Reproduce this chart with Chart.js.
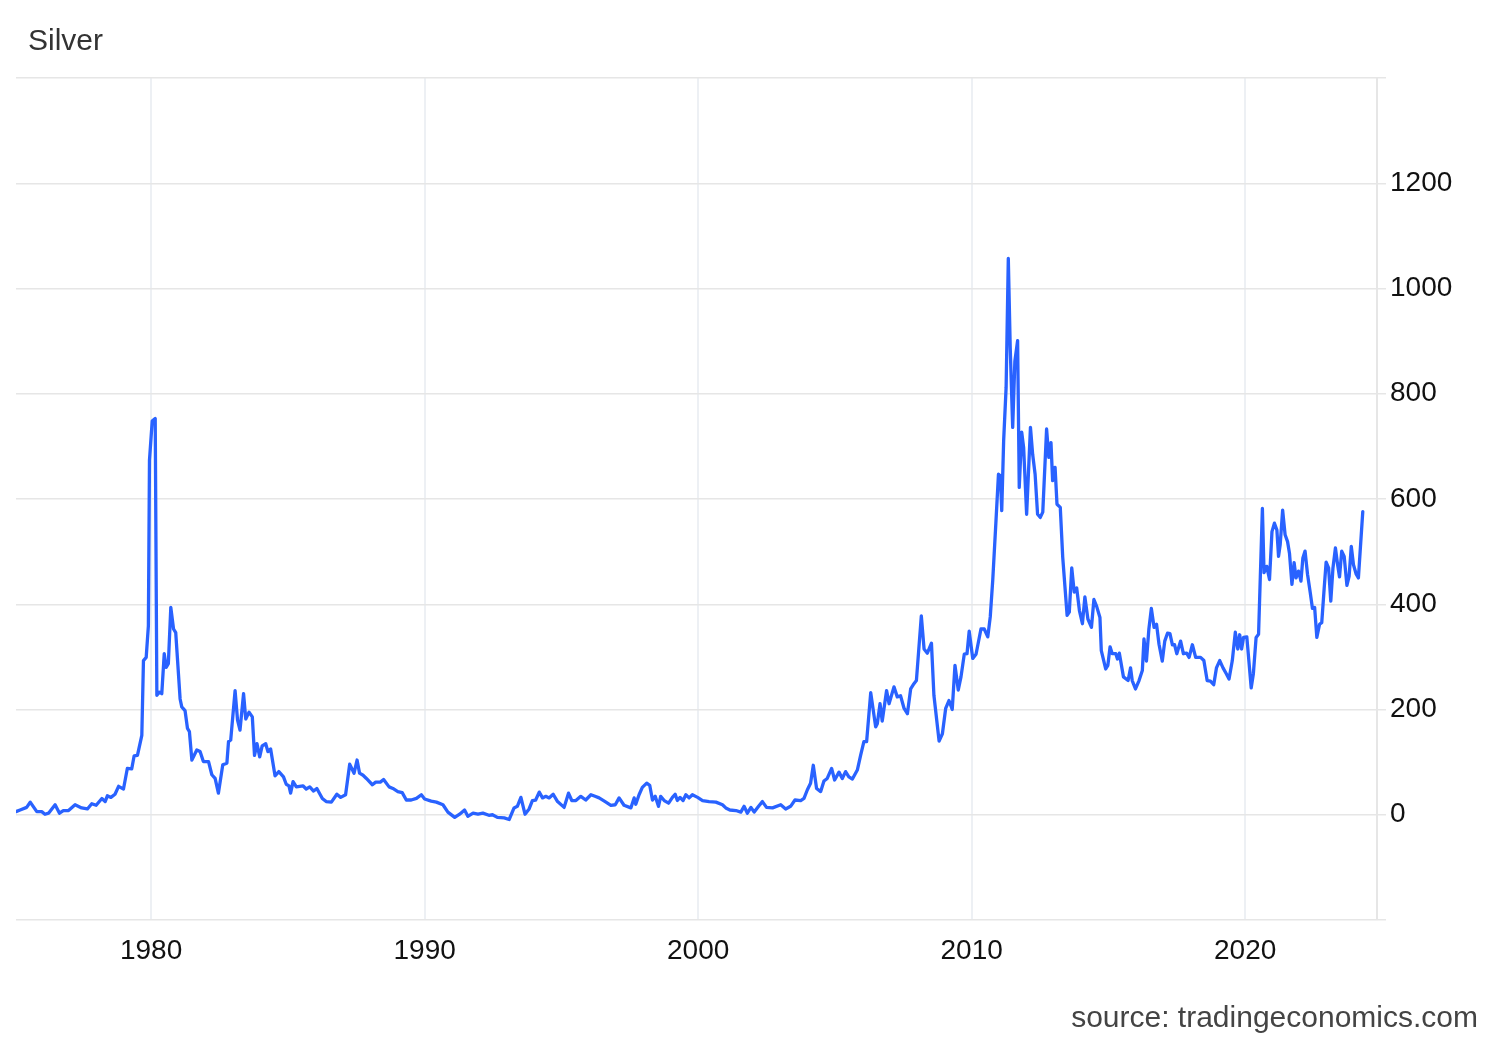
<!DOCTYPE html>
<html>
<head>
<meta charset="utf-8">
<title>Silver</title>
<script src="https://cdn.jsdelivr.net/npm/chart.js@4.4.1/dist/chart.umd.min.js"></script>
<style>
    html, body {
        margin: 0;
        padding: 0;
        background: #ffffff;
    }
    #wrap {
        position: relative;
        width: 1500px;
        height: 1040px;
        font-family: "Liberation Sans", Arial, sans-serif;
    }
    #chart-box {
        position: absolute;
        left: 0;
        top: 0;
        width: 1500px;
        height: 1040px;
    }
    .chart-title {
        position: absolute;
        left: 28px;
        top: 25px;
        font-size: 30px;
        line-height: 30px;
        color: #333333;
    }
    .chart-source {
        position: absolute;
        right: 22px;
        top: 1002px;
        font-size: 30px;
        line-height: 30px;
        color: #444444;
    }
</style>
</head>
<body>
<div id="wrap">
    <div id="chart-box"><canvas id="chart-silver"></canvas></div>
    <div class="chart-title">Silver</div>
    <div class="chart-source">source: tradingeconomics.com</div>
</div>

<script>
// Silver, change since 1975 (%)
const dates = [
    1975.06, 1975.21, 1975.45, 1975.58, 1975.82, 1976.00, 1976.12, 1976.25, 1976.49, 1976.65,
    1976.79, 1976.98, 1977.22, 1977.46, 1977.67, 1977.83, 1977.99, 1978.20, 1978.32, 1978.40,
    1978.53, 1978.68, 1978.81, 1978.99, 1979.13, 1979.29, 1979.38, 1979.50, 1979.66, 1979.72,
    1979.82, 1979.90, 1979.94, 1980.04, 1980.15, 1980.21, 1980.30, 1980.39, 1980.48, 1980.55,
    1980.63, 1980.72, 1980.82, 1980.90, 1981.06, 1981.12, 1981.24, 1981.33, 1981.40, 1981.49,
    1981.67, 1981.79, 1981.91, 1982.10, 1982.22, 1982.34, 1982.46, 1982.62, 1982.77, 1982.83,
    1982.91, 1983.07, 1983.16, 1983.25, 1983.38, 1983.46, 1983.58, 1983.70, 1983.78, 1983.87,
    1983.97, 1984.06, 1984.19, 1984.27, 1984.37, 1984.53, 1984.67, 1984.84, 1984.94, 1985.04,
    1985.10, 1985.19, 1985.31, 1985.55, 1985.67, 1985.80, 1985.94, 1986.06, 1986.26, 1986.40,
    1986.59, 1986.79, 1986.93, 1987.11, 1987.26, 1987.42, 1987.53, 1987.62, 1987.75, 1987.87,
    1988.09, 1988.21, 1988.38, 1988.50, 1988.70, 1988.84, 1989.02, 1989.18, 1989.33, 1989.51,
    1989.70, 1989.88, 1990.00, 1990.24, 1990.43, 1990.67, 1990.85, 1991.10, 1991.28, 1991.46,
    1991.58, 1991.77, 1991.95, 1992.13, 1992.35, 1992.48, 1992.66, 1992.91, 1993.09, 1993.27,
    1993.39, 1993.52, 1993.67, 1993.82, 1993.94, 1994.06, 1994.19, 1994.31, 1994.43, 1994.55,
    1994.70, 1994.86, 1995.10, 1995.26, 1995.38, 1995.53, 1995.71, 1995.89, 1996.08, 1996.23,
    1996.38, 1996.60, 1996.81, 1996.97, 1997.11, 1997.29, 1997.54, 1997.66, 1997.72, 1997.84,
    1997.96, 1998.12, 1998.23, 1998.33, 1998.43, 1998.55, 1998.63, 1998.76, 1998.92, 1999.06,
    1999.16, 1999.24, 1999.34, 1999.45, 1999.55, 1999.67, 1999.79, 1999.98, 2000.16, 2000.40,
    2000.65, 2000.89, 2001.01, 2001.16, 2001.38, 2001.56, 2001.68, 2001.80, 2001.93, 2002.05,
    2002.21, 2002.35, 2002.50, 2002.72, 2003.02, 2003.20, 2003.38, 2003.54, 2003.75, 2003.87,
    2003.99, 2004.11, 2004.21, 2004.33, 2004.48, 2004.60, 2004.72, 2004.88, 2004.99, 2005.15,
    2005.27, 2005.39, 2005.51, 2005.64, 2005.82, 2005.94, 2006.06, 2006.16, 2006.31, 2006.49,
    2006.55, 2006.65, 2006.73, 2006.89, 2006.98, 2007.16, 2007.28, 2007.40, 2007.53, 2007.65,
    2007.77, 2007.89, 2007.98, 2008.16, 2008.26, 2008.38, 2008.53, 2008.62, 2008.81, 2008.93,
    2009.05, 2009.17, 2009.29, 2009.39, 2009.51, 2009.61, 2009.73, 2009.83, 2009.91, 2010.04,
    2010.16, 2010.34, 2010.46, 2010.59, 2010.68, 2010.77, 2010.89, 2010.98, 2011.05, 2011.10,
    2011.17, 2011.26, 2011.34, 2011.41, 2011.50, 2011.58, 2011.68, 2011.74, 2011.83, 2011.90,
    2012.01, 2012.15, 2012.23, 2012.32, 2012.41, 2012.51, 2012.60, 2012.74, 2012.82, 2012.90,
    2012.96, 2013.05, 2013.12, 2013.24, 2013.33, 2013.49, 2013.57, 2013.66, 2013.75, 2013.84,
    2013.94, 2014.05, 2014.14, 2014.25, 2014.38, 2014.47, 2014.57, 2014.69, 2014.74, 2014.90,
    2014.98, 2015.06, 2015.14, 2015.27, 2015.33, 2015.40, 2015.55, 2015.72, 2015.81, 2015.87,
    2015.99, 2016.12, 2016.24, 2016.30, 2016.39, 2016.48, 2016.57, 2016.67, 2016.76, 2016.85,
    2016.97, 2017.06, 2017.16, 2017.25, 2017.34, 2017.42, 2017.50, 2017.64, 2017.74, 2017.86,
    2017.95, 2018.07, 2018.19, 2018.37, 2018.49, 2018.61, 2018.73, 2018.85, 2018.95, 2019.07,
    2019.19, 2019.31, 2019.41, 2019.53, 2019.64, 2019.73, 2019.80, 2019.87, 2019.94, 2020.06,
    2020.12, 2020.22, 2020.30, 2020.40, 2020.49, 2020.63, 2020.69, 2020.79, 2020.89, 2020.98,
    2021.07, 2021.16, 2021.22, 2021.28, 2021.37, 2021.46, 2021.55, 2021.62, 2021.71, 2021.79,
    2021.86, 2021.95, 2022.04, 2022.11, 2022.19, 2022.28, 2022.38, 2022.46, 2022.54, 2022.62,
    2022.72, 2022.80, 2022.89, 2022.96, 2023.05, 2023.13, 2023.21, 2023.30, 2023.38, 2023.45,
    2023.53, 2023.62, 2023.72, 2023.80, 2023.88, 2023.96, 2024.06, 2024.14, 2024.30
];

const silverChange = [
    6, 9, 14, 24, 6, 6, 1, 3, 19, 3,
    8, 8, 19, 13, 11, 21, 18, 31, 25, 36,
    33, 39, 54, 49, 88, 87, 112, 113, 151, 293,
    299, 359, 674, 748, 753, 227, 233, 230, 306, 280,
    287, 394, 353, 346, 220, 205, 198, 164, 158, 104,
    123, 120, 101, 101, 76, 69, 41, 95, 98, 139,
    142, 236, 180, 161, 230, 182, 195, 186, 113, 135,
    110, 131, 135, 120, 125, 74, 82, 72, 58, 55,
    41, 63, 53, 55, 49, 53, 45, 50, 31, 25,
    24, 39, 33, 38, 96, 79, 104, 79, 75, 69,
    57, 62, 62, 67, 53, 50, 44, 42, 28, 28,
    31, 38, 30, 26, 24, 19, 5, -5, 1, 9,
    -3, 3, 1, 3, -1, 0, -5, -6, -9, 13,
    16, 33, 1, 11, 27, 28, 43, 32, 35, 32,
    39, 25, 14, 41, 27, 27, 35, 28, 38, 35,
    32, 25, 18, 19, 32, 18, 13, 32, 20, 38,
    52, 60, 56, 28, 35, 16, 35, 27, 22, 33,
    39, 27, 33, 27, 38, 32, 38, 33, 27, 25,
    24, 19, 13, 9, 8, 5, 16, 3, 14, 5,
    16, 25, 14, 13, 19, 11, 16, 28, 27, 31,
    47, 60, 94, 50, 44, 64, 69, 88, 66, 81,
    69, 82, 72, 68, 85, 113, 139, 139, 232, 167,
    173, 211, 178, 236, 211, 243, 224, 226, 202, 192,
    239, 249, 255, 378, 315, 307, 326, 227, 140, 154,
    202, 217, 200, 284, 237, 262, 305, 306, 349, 297,
    305, 353, 353, 338, 376, 445, 559, 647, 644, 578,
    711, 812, 1057, 888, 736, 862, 901, 622, 727, 698,
    571, 736, 685, 647, 571, 565, 575, 733, 679, 707,
    635, 660, 590, 584, 489, 379, 385, 469, 423, 431,
    388, 363, 414, 372, 356, 409, 396, 375, 312, 277,
    284, 319, 306, 306, 296, 307, 262, 255, 279, 255,
    239, 255, 274, 334, 292, 353, 392, 356, 362, 324,
    292, 330, 345, 344, 323, 323, 306, 330, 306, 307,
    299, 323, 299, 299, 293, 255, 254, 247, 279, 293,
    279, 268, 258, 293, 347, 315, 342, 315, 337, 338,
    302, 241, 268, 337, 343, 582, 460, 472, 447, 538,
    554, 541, 491, 513, 579, 532, 519, 497, 438, 479,
    450, 463, 444, 488, 501, 457, 422, 392, 394, 337,
    362, 365, 431, 480, 469, 406, 469, 507, 475, 452,
    501, 491, 436, 453, 510, 475, 457, 450, 576
];

// axis ticks
const yearTicks = [1980, 1990, 2000, 2010, 2020];
const gridValues = [-200, 0, 200, 400, 600, 800, 1000, 1200, 1400];
const labelValues = [0, 200, 400, 600, 800, 1000, 1200];

const xMin = 1975.06;
const xMax = 2024.82;

const tickFont = { family: '"Liberation Sans", Arial, sans-serif', size: 28 };

const points = dates.map((d, i) => ({ x: d, y: silverChange[i] }));

const ctx = document.getElementById('chart-silver');

new Chart(ctx, {
    type: 'line',
    data: {
        datasets: [{
            label: 'Silver',
            data: points,
            borderColor: '#2962ff',
            borderWidth: 3.3,
            borderJoinStyle: 'round',
            borderCapStyle: 'round',
            pointRadius: 0,
            tension: 0,
            fill: false
        }]
    },
    options: {
        responsive: true,
        maintainAspectRatio: false,
        animation: false,
        layout: {
            padding: { left: 16, top: 78, right: 0, bottom: 0 }
        },
        plugins: {
            legend: { display: false },
            tooltip: { enabled: false }
        },
        scales: {
            x: {
                type: 'linear',
                position: 'bottom',
                min: xMin,
                max: xMax,
                afterBuildTicks: (scale) => {
                    scale.ticks = yearTicks.map(v => ({ value: v }));
                },
                afterFit: (scale) => {
                    scale.height = 120;
                },
                grid: {
                    color: '#edf0f4',
                    lineWidth: 2,
                    drawTicks: false
                },
                border: { display: false },
                ticks: {
                    font: tickFont,
                    color: '#111111',
                    padding: 14,
                    maxRotation: 0,
                    autoSkip: false,
                    callback: (v) => String(v)
                }
            },
            y: {
                type: 'linear',
                position: 'right',
                min: -200,
                max: 1400,
                afterBuildTicks: (scale) => {
                    scale.ticks = gridValues.map(v => ({ value: v }));
                },
                afterFit: (scale) => {
                    scale.width = 123;
                },
                grid: {
                    color: '#e6e6e6',
                    lineWidth: 1.5,
                    drawTicks: true,
                    tickLength: 9
                },
                border: {
                    display: true,
                    color: '#e6e6e6',
                    width: 2
                },
                ticks: {
                    font: tickFont,
                    color: '#111111',
                    padding: 4,
                    autoSkip: false,
                    callback: (v) => labelValues.includes(v) ? String(v) : ''
                }
            }
        }
    }
});
</script>
</body>
</html>
